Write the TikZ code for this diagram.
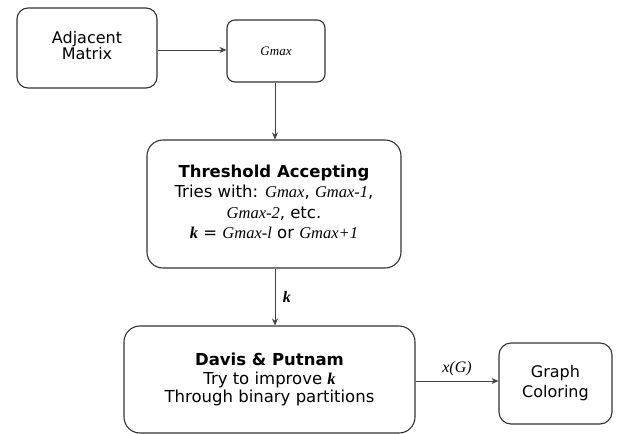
\documentclass[tikz,border=0pt]{standalone}
\usepackage{fontspec}
\setmainfont{DejaVu Sans}
\newfontfamily\serifit{Liberation Serif}
\usetikzlibrary{arrows.meta}
\newcommand{\gm}[1]{{\serifit\itshape #1}}
\begin{document}
\begin{tikzpicture}[x=1pt,y=-1pt,
  box/.style={draw=black!80, line width=1.1pt, rounded corners=11pt, fill=white, inner sep=0pt, align=center},
  conn/.style={draw=black!75, line width=0.9pt},
  arr/.style={conn, -{Stealth[length=7pt,width=6pt]}}]
\useasboundingbox (0,0) rectangle (630,434);
\node[box, minimum width=140pt, minimum height=80pt, font=\fontsize{16}{19}\selectfont] (adj) at (87,48) {\raisebox{4pt}{\begin{tabular}{@{}c@{}}Adjacent\\[-3pt]Matrix\end{tabular}}};
\node[box, minimum width=98pt, minimum height=62pt, rounded corners=8pt, font=\fontsize{13}{14}\selectfont] (gmax) at (276,51) {\gm{Gmax}};
\node[box, minimum width=254pt, minimum height=128pt, rounded corners=16pt, font=\fontsize{16.5}{20.5}\selectfont] (ta) at (274,204) {\raisebox{3pt}{\begin{tabular}{@{}c@{}}{\bfseries Threshold Accepting}\\Tries with: \gm{Gmax}, \gm{Gmax-1},\\\gm{Gmax-2}, etc.\\\gm{\bfseries k} = \gm{Gmax-l} or \gm{Gmax+1}\end{tabular}}};
\node[box, minimum width=291pt, minimum height=107pt, rounded corners=16pt, font=\fontsize{16.5}{18.5}\selectfont] (dp) at (269.5,379.5) {{\bfseries Davis \& Putnam}\\Try to improve \gm{\bfseries k}\\Through binary partitions};
\node[box, minimum width=113pt, minimum height=81pt, rounded corners=12pt, font=\fontsize{16}{20}\selectfont] (gc) at (555.5,383.5) {Graph\\Coloring};
\draw[arr] (adj.east |- 0,50) -- (gmax.west |- 0,50);
\draw[arr] (gmax.south -| 275,0) -- (ta.north -| 275,0);
\draw[arr] (ta.south -| 275,0) -- node[right=4pt, font=\fontsize{16}{18}\selectfont] {\gm{\bfseries k}} (dp.north -| 275,0);
\draw[arr] (dp.east |- 0,381) -- node[above=1pt, font=\fontsize{16}{18}\selectfont] {\gm{x(G)}} (gc.west |- 0,381);
\end{tikzpicture}
\end{document}
